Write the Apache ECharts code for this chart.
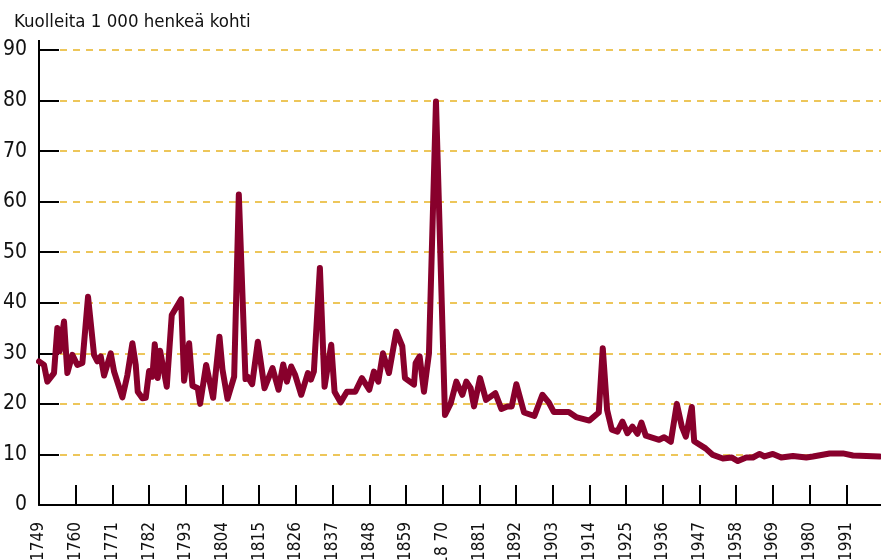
<!DOCTYPE html>
<html>
<head>
<meta charset="utf-8">
<script src="https://cdn.jsdelivr.net/npm/echarts@6/dist/echarts.min.js"></script>
<style>
html, body { margin: 0; padding: 0; background: #fff; }
#main { width: 881px; height: 560px; }
</style>
</head>
<body>
<div id="main"></div>
<script>
// vuodet ja kuolleisuus (kuolleita / 1000 henkeä), luettu kuvasta
var years = [1749, 1750.5, 1751.5, 1753.5, 1754.5, 1755.2, 1756.5, 1757.5, 1759, 1760.5,
  1762, 1763.7, 1765.5, 1766.5, 1767.5, 1768.5, 1770.5, 1771.5, 1774, 1775.5,
  1777, 1778, 1778.6, 1780, 1781, 1782, 1783, 1783.7, 1784.6, 1785.3,
  1787.3, 1788.8, 1791.6, 1792.5, 1794, 1795, 1796.6, 1797.3, 1799.1, 1801.2,
  1803.1, 1804, 1805.5, 1807.5, 1808.9, 1810.9, 1811.5, 1812.9, 1814.6, 1816.6,
  1819, 1820.8, 1822.2, 1823.3, 1824.6, 1825.8, 1827.6, 1829.6, 1830.5, 1831.4,
  1833.2, 1834.6, 1836.6, 1837.6, 1839.4, 1841.3, 1843.8, 1845.8, 1848, 1849.4,
  1850.7, 1852.1, 1853.9, 1856.1, 1857.9, 1858.7, 1861.4, 1861.9, 1863.1, 1864.4,
  1865.9, 1868, 1870.7, 1872.4, 1874.1, 1875.9, 1877.1, 1878.4, 1879.4, 1881.2,
  1883, 1885.8, 1887.6, 1889.4, 1890.7, 1892.1, 1894.4, 1897.5, 1899.9, 1901.8,
  1903.3, 1907.8, 1910, 1914, 1916.8, 1918, 1919.3, 1920.7, 1922.4, 1923.9,
  1925.4, 1926.9, 1928.4, 1929.6, 1930.9, 1934.9, 1936.4, 1938.4, 1940.2, 1941.7,
  1942.9, 1944.7, 1945.4, 1948.8, 1951, 1954, 1956.6, 1958.5, 1961, 1963,
  1965, 1966.5, 1969, 1971.5, 1975, 1979, 1981, 1986, 1990, 1993,
  2001];
var rates = [28.4, 27.7, 24.4, 26.1, 35.0, 30.4, 36.3, 26.1, 29.7, 27.7,
  28.1, 41.2, 29.7, 28.4, 29.4, 25.6, 30.0, 26.4, 21.3, 25.7,
  32.0, 27.7, 22.4, 21.1, 21.2, 26.5, 25.4, 31.8, 25.1, 30.5,
  23.4, 37.6, 40.7, 24.6, 32.0, 23.6, 23.1, 20.0, 27.7, 21.2,
  33.3, 26.8, 21.0, 25.4, 61.4, 24.9, 25.4, 23.9, 32.3, 23.1,
  27.1, 22.8, 27.8, 24.4, 27.4, 25.7, 21.8, 26.1, 24.8, 26.4,
  46.9, 23.4, 31.7, 22.4, 20.3, 22.4, 22.4, 25.1, 22.8, 26.4,
  24.4, 30.0, 26.1, 34.3, 31.4, 25.1, 23.8, 28.1, 29.4, 22.4,
  30.0, 79.8, 17.8, 20.1, 24.4, 21.8, 24.4, 23.1, 19.5, 25.1,
  20.8, 22.1, 19.0, 19.5, 19.5, 23.9, 18.3, 17.6, 21.8, 20.3,
  18.4, 18.4, 17.4, 16.7, 18.3, 31.0, 18.8, 14.9, 14.5, 16.5,
  14.2, 15.5, 14.1, 16.3, 13.7, 12.9, 13.4, 12.5, 20.0, 15.5,
  13.5, 19.4, 12.6, 11.2, 9.9, 9.2, 9.4, 8.7, 9.4, 9.4,
  10.1, 9.6, 10.1, 9.4, 9.7, 9.4, 9.6, 10.2, 10.2, 9.8,
  9.6];

var tickYears = [1749, 1760, 1771, 1782, 1793, 1804, 1815, 1826, 1837, 1848, 1859,
  1870, 1881, 1892, 1903, 1914, 1925, 1936, 1947, 1958, 1969, 1980, 1991];
var tickLabels = ['1749', '1760', '1771', '1782', '1793', '1804', '1815', '1826', '1837', '1848', '1859',
  '18 70', '1881', '1892', '1903', '1914', '1925', '1936', '1947', '1958', '1969', '1980', '1991'];

var FONT = "'DejaVu Sans Condensed', 'Liberation Sans Narrow', sans-serif";

var chart = echarts.init(document.getElementById('main'));

var seriesData = years.map(function (y, i) { return [y, rates[i]]; });

chart.setOption({
  animation: false,
  title: {
    text: 'Kuolleita 1 000 henkeä kohti',
    left: 9,
    top: 8,
    textStyle: { fontFamily: FONT, fontSize: 18.5, fontWeight: 'normal', color: '#111' }
  },
  grid: { left: 39, right: -12, top: 50, bottom: 55, containLabel: false, outerBoundsMode: 'none' },
  xAxis: {
    type: 'value',
    min: 1749,
    max: 2005,
    interval: 11,
    z: 3,
    axisLine: { lineStyle: { color: '#000', width: 2 } },
    axisTick: { inside: true, length: 20, lineStyle: { color: '#000', width: 2 } },
    splitLine: { show: false },
    axisLabel: {
      rotate: 90,
      margin: 17,
      fontFamily: FONT,
      fontSize: 17,
      color: '#111',
      showMinLabel: true,
      showMaxLabel: false,
      hideOverlap: false,
      formatter: function (v) {
        var i = tickYears.indexOf(Math.round(v));
        return i >= 0 ? tickLabels[i] : '';
      }
    }
  },
  yAxis: {
    type: 'value',
    min: 0,
    max: 90,
    interval: 10,
    z: 1,
    axisLine: {
      show: true,
      symbol: ['none', 'rect'],
      symbolSize: [2, 20],
      lineStyle: { color: '#000', width: 2 }
    },
    axisTick: { show: true, inside: true, length: 20, lineStyle: { color: '#000', width: 2 } },
    splitLine: {
      show: true,
      lineStyle: { color: '#e8b424', width: 1.5, type: [7, 6], dashOffset: 5 }
    },
    axisLabel: { margin: 12, fontFamily: FONT, fontSize: 21, color: '#111' }
  },
  series: [{
    type: 'line',
    z: 2,
    data: seriesData,
    showSymbol: false,
    symbol: 'none',
    clip: false,
    lineStyle: { color: '#88002c', width: 6, cap: 'round', join: 'round' }
  }]
});
</script>
</body>
</html>
